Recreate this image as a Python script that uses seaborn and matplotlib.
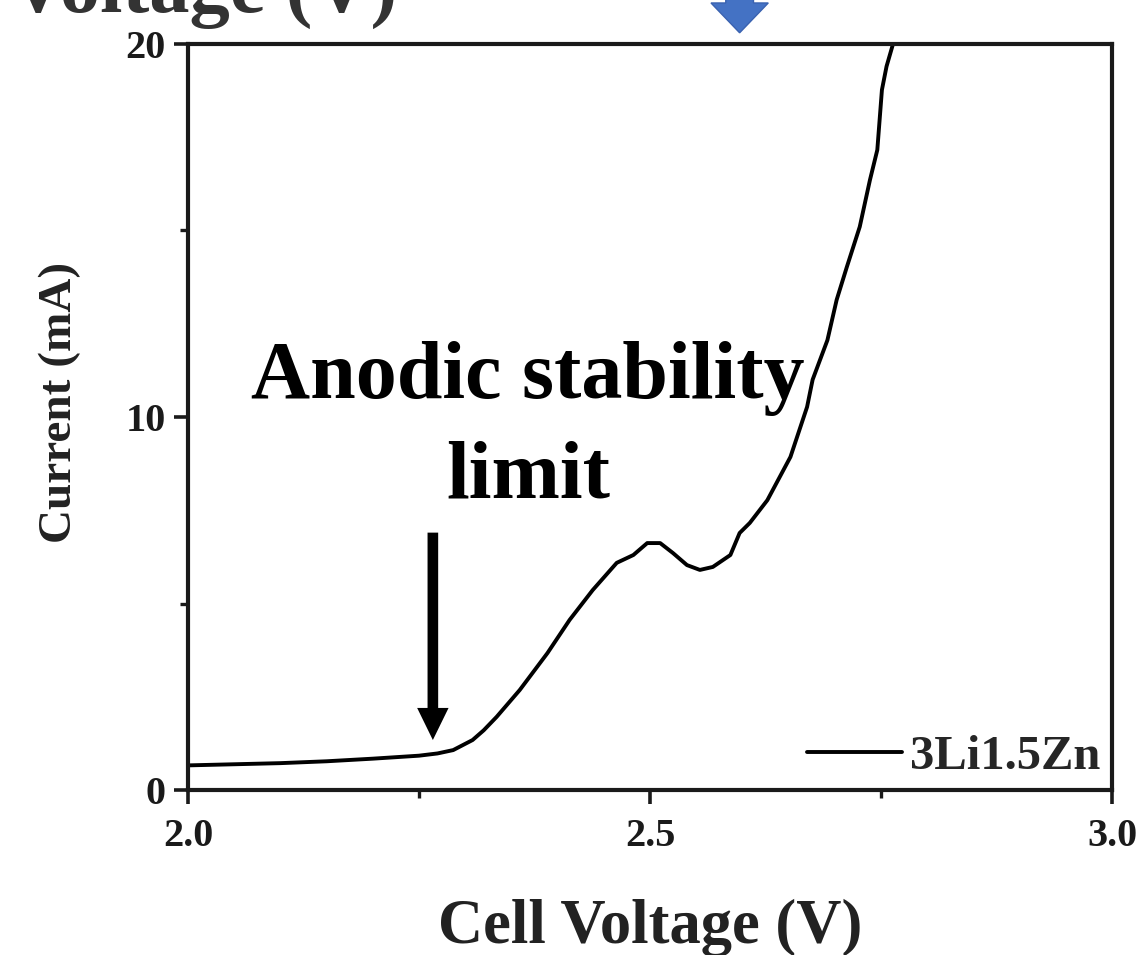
import matplotlib
matplotlib.use("Agg")
import matplotlib.pyplot as plt
import seaborn as sns
import pandas as pd
from matplotlib.ticker import MultipleLocator

# ---- data ----
voltage = [2.00, 2.05, 2.10, 2.15, 2.20, 2.25, 2.27, 2.287, 2.308, 2.320, 2.334, 2.359,
           2.389, 2.413, 2.438, 2.464, 2.482, 2.497, 2.511, 2.525, 2.540, 2.554, 2.568,
           2.587, 2.597, 2.608, 2.627, 2.652, 2.670, 2.676, 2.692, 2.702, 2.713, 2.727,
           2.738, 2.746, 2.751, 2.756, 2.763]
current = [0.66, 0.69, 0.72, 0.77, 0.84, 0.92, 0.98, 1.07, 1.34, 1.60, 1.96, 2.68,
           3.67, 4.56, 5.36, 6.09, 6.30, 6.62, 6.62, 6.35, 6.03, 5.90, 5.98,
           6.30, 6.89, 7.16, 7.77, 8.93, 10.27, 11.00, 12.06, 13.14, 14.02, 15.10,
           16.35, 17.16, 18.77, 19.40, 20.00]
series_name = "3Li1.5Zn"
x_ticks = [2.0, 2.5, 3.0]
x_tick_labels = ["2.0", "2.5", "3.0"]
y_ticks = [0, 10, 20]
y_tick_labels = ["0", "10", "20"]
annotation_lines = ["Anodic stability", "limit"]

sns.set_theme(style="ticks")
plt.rcParams["font.family"] = ["Liberation Serif", "DejaVu Serif"]
plt.rcParams["font.weight"] = "bold"

fig = plt.figure(figsize=(11.45, 9.55), dpi=100)
ax = fig.add_axes([188 / 1145, 1 - 790 / 955, (1112 - 188) / 1145, (790 - 44) / 955])

df = pd.DataFrame({"Cell Voltage (V)": voltage, "Current (mA)": current})
sns.lineplot(data=df, x="Cell Voltage (V)", y="Current (mA)", ax=ax, color="black",
             lw=2.8, label=series_name, sort=False)
for ln in ax.get_lines():
    ln.set_solid_joinstyle("round")
    ln.set_solid_capstyle("round")

ax.set_xlim(2.0, 3.0)
ax.set_ylim(0, 20)
ax.set_xticks(x_ticks)
ax.set_xticklabels(x_tick_labels)
ax.set_yticks(y_ticks)
ax.set_yticklabels(y_tick_labels)
ax.xaxis.set_minor_locator(MultipleLocator(0.25))
ax.yaxis.set_minor_locator(MultipleLocator(5))

for s in ax.spines.values():
    s.set_linewidth(3.0)
    s.set_color("#1a1a1a")
ax.tick_params(which="major", direction="out", length=10, width=2.6, labelsize=29,
               colors="#1a1a1a", pad=6)
ax.tick_params(which="minor", direction="out", length=6, width=2.4, colors="#1a1a1a")
ax.tick_params(axis="x", which="major", pad=10)
for lab in ax.get_xticklabels() + ax.get_yticklabels():
    lab.set_fontweight("bold")

ax.set_xlabel("Cell Voltage (V)", fontsize=45, fontweight="bold", color="#222222")
ax.xaxis.set_label_coords(0.5, -0.146)
ax.set_ylabel("Current (mA)", fontsize=34, fontweight="bold", color="#222222")
ax.yaxis.set_label_coords(-0.116, 0.52)

leg = ax.legend(loc="lower right", frameon=False, handlelength=1.95,
                handletextpad=0.16, borderaxespad=0.0, bbox_to_anchor=(1.008, -0.011),
                prop={"family": ["Liberation Serif"], "weight": "bold", "size": 35})
for l in leg.get_lines():
    l.set_linewidth(2.8)

# annotation text and arrow
ax.text(2.368, 10.51, annotation_lines[0], ha="center", va="baseline", fontsize=59,
        fontweight="bold", color="black")
ax.text(2.368, 7.83, annotation_lines[1], ha="center", va="baseline", fontsize=59,
        fontweight="bold", color="black")
ax.arrow(2.265, 6.9, 0, -(6.9 - 1.34) + 0.86, width=0.0115, head_width=0.034,
         head_length=0.86, length_includes_head=False, color="black", lw=0)

# blue arrow at the top edge (from the neighbouring panel), partly cut off
ax.arrow(2.597, 23.0, 0, -(23.0 - 20.3) + 0.8, width=0.03, head_width=0.062,
         head_length=0.8, color="#4472C4", ec="#3a62b0", lw=1, clip_on=False)

# partial label of the panel above
fig.text(397 / 1145, 1 - 12 / 955, "Voltage (V)", ha="right", va="baseline",
         fontsize=58, fontweight="bold", color="#333333")

fig.savefig("out.png", dpi=100)
